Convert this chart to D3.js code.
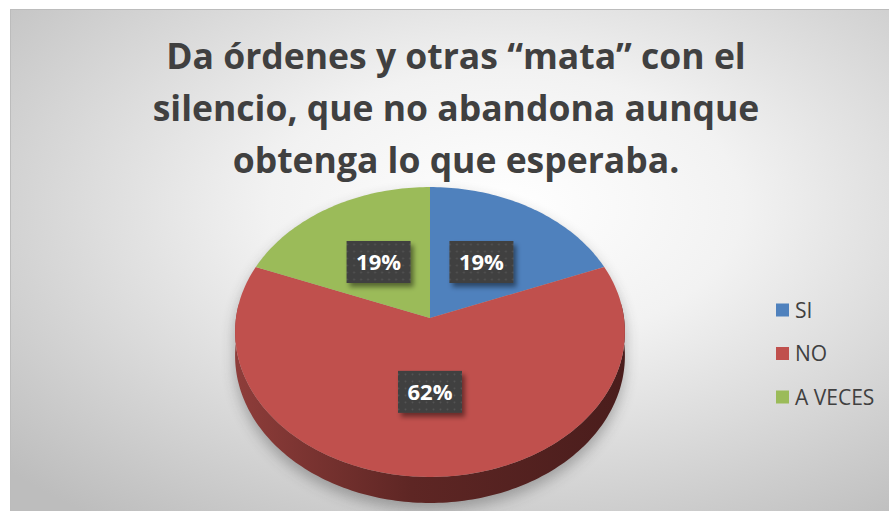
<!DOCTYPE html>
<html>
<head>
<meta charset="utf-8">
<script src="https://cdn.jsdelivr.net/npm/d3@7"></script>
<style>
  html, body { margin: 0; padding: 0; background: #fff; }
  svg { display: block; }
</style>
</head>
<body>
<div id="chart"></div>
<script>
// chart data
const categories = ["SI", "NO", "A VECES"];
const values = [19, 62, 19];
const valueLabels = ["19%", "62%", "19%"];
const colors = ["#4f81bd", "#c0504d", "#9bbb59"];
const titleLines = [
  "Da órdenes y otras “mata” con el",
  "silencio, que no abandona aunque",
  "obtenga lo que esperaba."
];

var width = 889, height = 511;

var svg = d3.select("#chart").append("svg")
  .attr("width", width)
  .attr("height", height);

var defs = svg.append("defs");

// background gradient
var bg = defs.append("radialGradient")
  .attr("id", "bg")
  .attr("cx", "0.55").attr("cy", "0.38").attr("r", "0.75");
bg.append("stop").attr("offset", "0").attr("stop-color", "#ffffff");
bg.append("stop").attr("offset", "0.35").attr("stop-color", "#f2f2f2");
bg.append("stop").attr("offset", "1").attr("stop-color", "#bdbdbd");

// side of the pie, darker towards the right
var side = defs.append("linearGradient")
  .attr("id", "side")
  .attr("gradientUnits", "userSpaceOnUse")
  .attr("x1", 236).attr("x2", 625).attr("y1", 0).attr("y2", 0);
side.append("stop").attr("offset", "0").attr("stop-color", "#8e3d3a");
side.append("stop").attr("offset", "0.45").attr("stop-color", "#5e2624");
side.append("stop").attr("offset", "1").attr("stop-color", "#4a1d1c");

var blur = defs.append("filter").attr("id", "blur")
  .attr("x", "-20%").attr("y", "-20%").attr("width", "140%").attr("height", "140%");
blur.append("feGaussianBlur").attr("stdDeviation", 7);

var boxShadow = defs.append("filter").attr("id", "boxshadow")
  .attr("x", "-30%").attr("y", "-30%").attr("width", "160%").attr("height", "160%");
boxShadow.append("feDropShadow")
  .attr("dx", 3).attr("dy", 4).attr("stdDeviation", 2.5)
  .attr("flood-color", "#000").attr("flood-opacity", 0.45);

var dots = defs.append("pattern").attr("id", "dots")
  .attr("patternUnits", "userSpaceOnUse")
  .attr("width", 7).attr("height", 7);
dots.append("rect").attr("width", 7).attr("height", 7).attr("fill", "#3f3f3f");
dots.append("circle").attr("cx", 3.5).attr("cy", 3.5).attr("r", 1).attr("fill", "#545454");

// chart area
svg.append("rect")
  .attr("x", 10.5).attr("y", 9.5)
  .attr("width", 900).attr("height", 520)
  .attr("fill", "url(#bg)")
  .attr("stroke", "#bcbcbc");

// title
svg.append("g").selectAll("text")
  .data(titleLines)
  .enter().append("text")
    .attr("x", 456)
    .attr("y", function(d, i) { return 69 + i * 52; })
    .attr("text-anchor", "middle")
    .style("font-family", "'Open Sans', sans-serif")
    .style("font-weight", "bold")
    .style("font-size", "35.5px")
    .attr("fill", "#404040")
    .text(function(d) { return d; });

// 3d pie with a little perspective
var cx = 430, cy = 318, R = 194, B = 143.6, P = 0.0965, depth = 23.5;

function project(a, r, drop) {
  var u = r * Math.sin(a), v = -r * Math.cos(a);
  var k = 1 / (1 - P * v);
  return [cx + R * u * k, cy + B * v * k + drop * k];
}

function rim(a0, a1, drop) {
  var n = Math.max(2, Math.ceil((a1 - a0) / 0.02));
  return d3.range(n + 1).map(function(i) {
    return project(a0 + (a1 - a0) * i / n, 1, drop);
  });
}

var pie = d3.pie().sort(null).value(function(d) { return d; });
var arcs = pie(values);
var line = d3.line();

var pieG = svg.append("g");

// soft shadow under the pie
var fullTop = rim(0, 2 * Math.PI, 0);
var fullSide = rim(Math.PI / 2 - 0.1, 3 * Math.PI / 2 + 0.1, 0)
  .concat(rim(Math.PI / 2 - 0.1, 3 * Math.PI / 2 + 0.1, depth).reverse());
var shadowG = pieG.append("g")
  .attr("transform", "translate(0,7)")
  .attr("filter", "url(#blur)")
  .attr("opacity", 0.35);
shadowG.append("path").attr("d", line(fullTop) + "Z").attr("fill", "#333");
shadowG.append("path").attr("d", line(fullSide) + "Z").attr("fill", "#333");

// visible side walls
arcs.forEach(function(d, i) {
  var a0 = Math.max(d.startAngle, Math.PI / 2 - 0.1);
  var a1 = Math.min(d.endAngle, 3 * Math.PI / 2 + 0.1);
  if (a0 >= a1) return;
  var pts = rim(a0, a1, 0).concat(rim(a0, a1, depth).reverse());
  pieG.append("path")
    .attr("d", line(pts) + "Z")
    .attr("fill", i == 1 ? "url(#side)" : d3.color(colors[i]).darker(1.3));
});

// top faces
pieG.selectAll(".slice")
  .data(arcs)
  .enter().append("path")
    .attr("class", "slice")
    .attr("d", function(d) {
      return line([[cx, cy]].concat(rim(d.startAngle, d.endAngle, 0))) + "Z";
    })
    .attr("fill", function(d, i) { return colors[i]; });

// data labels
var labelG = svg.append("g").selectAll("g")
  .data(arcs)
  .enter().append("g")
    .attr("transform", function(d) {
      var p = project((d.startAngle + d.endAngle) / 2, 0.49, 0);
      return "translate(" + p[0] + "," + p[1] + ")";
    });

labelG.append("rect")
  .attr("x", -32).attr("y", -21)
  .attr("width", 64).attr("height", 42)
  .attr("fill", "url(#dots)")
  .attr("filter", "url(#boxshadow)");

labelG.append("text")
  .attr("text-anchor", "middle")
  .attr("dy", "0.36em")
  .style("font-family", "'Open Sans', sans-serif")
  .style("font-weight", "bold")
  .style("font-size", "22px")
  .attr("fill", "#fff")
  .text(function(d, i) { return valueLabels[i]; });

// legend
var legend = svg.append("g").selectAll("g")
  .data(categories)
  .enter().append("g")
    .attr("transform", function(d, i) { return "translate(776," + (310 + i * 43.5) + ")"; });

legend.append("rect")
  .attr("x", 0).attr("y", -6.5)
  .attr("width", 13).attr("height", 13)
  .attr("fill", function(d, i) { return colors[i]; });

legend.append("text")
  .attr("x", 19)
  .attr("dy", "0.36em")
  .style("font-family", "'Open Sans', sans-serif")
  .style("font-size", "21px")
  .attr("fill", "#404040")
  .text(function(d) { return d; });
</script>
</body>
</html>
